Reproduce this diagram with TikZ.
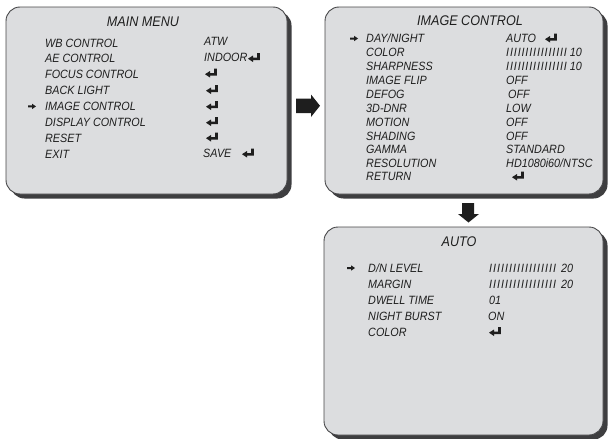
\documentclass[tikz,border=0pt]{standalone}
\usepackage{fontspec}
\setmainfont{Liberation Sans}[FakeStretch=0.9]
\usetikzlibrary{shadows}
\definecolor{facegray}{RGB}{220,221,223}
\definecolor{shadowgray}{RGB}{62,62,64}
\definecolor{edgegray}{RGB}{70,70,72}
\definecolor{inkgray}{RGB}{30,30,30}
\newcommand\barI{I\kern0.85pt}
\newcommand\barJ{I\kern1.0pt}
\tikzset{
  menubox/.style={draw=edgegray, line width=0.9pt, fill=facegray, rounded corners=14pt,
    inner sep=0pt,
    general shadow={shadow xshift=4.5pt, shadow yshift=-4.5pt, fill=shadowgray}},
  item/.style={anchor=west, inner sep=0pt, text height=8.6pt, text depth=0pt,
    font=\fontsize{12}{14}\selectfont\itshape, text=inkgray},
  title/.style={anchor=center, inner sep=0pt, text height=10pt, text depth=0pt,
    font=\fontsize{14}{16}\selectfont\itshape, text=inkgray},
  blockarrow/.style={fill=inkgray},
  enter/.pic={
    \fill[inkgray] (0,1.2) -- (5,-2) -- (5,0) -- (9.2,0) -- (9.2,-4.5) -- (11.8,-4.5)
      -- (11.8,2.5) -- (5,2.5) -- (5,4.5) -- cycle;
  },
  bullet/.pic={
    \fill[inkgray] (0,-1) -- (4,-1) -- (4,-2.7) -- (8,0) -- (4,2.7) -- (4,1) -- (0,1) -- cycle;
  }
}
\begin{document}
\begin{tikzpicture}[x=1pt,y=-1pt]
\useasboundingbox (0,0) rectangle (608,439);

% boxes
\node[menubox, minimum width=281pt, minimum height=187pt] (mainbox) at (146.5,100.5) {};
\node[menubox, minimum width=278pt, minimum height=187pt] (imgbox) at (464,100.5) {};
\node[menubox, minimum width=279pt, minimum height=208pt] (autobox) at (463.5,331) {};

% block arrows
\fill[blockarrow] (296,98.5) -- (311,98.5) -- (311,94.5) -- (320,105.8) -- (311,117)
  -- (311,113) -- (296,113) -- cycle;
\fill[blockarrow] (462,203) -- (474,203) -- (474,214) -- (479,214) -- (468.5,222.5)
  -- (458,214) -- (462,214) -- cycle;

% MAIN MENU
\node[title] (t1) at (143,21.5) {MAIN MENU};
\node[item] (m1) at (45,42.7) {WB CONTROL};
\node[item] (m2) at (45,58.4) {AE CONTROL};
\node[item] (m3) at (45,74.2) {FOCUS CONTROL};
\node[item] (m4) at (45,90.1) {BACK LIGHT};
\node[item] (m5) at (45,106.4) {IMAGE CONTROL};
\node[item] (m6) at (45,122.4) {DISPLAY CONTROL};
\node[item] (m7) at (45,138.2) {RESET};
\node[item] (m8) at (45,154) {EXIT};
\node[item] (v1) at (204,41) {ATW};
\node[item] (v2) at (204,57) {INDOOR};
\pic at (248,57.5) {enter};
\pic at (205,73) {enter};
\pic at (206,89.5) {enter};
\pic at (206,105.5) {enter};
\pic at (206,121.5) {enter};
\pic at (206,137) {enter};
\node[item] (v8) at (203,153) {SAVE};
\pic at (242,153) {enter};
\pic at (28,106.4) {bullet};

% IMAGE CONTROL
\node[title] (t2) at (470,20) {IMAGE CONTROL};
\node[item] (i1) at (366,38.5) {DAY/NIGHT};
\node[item] (i2) at (366,52.6) {COLOR};
\node[item] (i3) at (366,66.5) {SHARPNESS};
\node[item] (i4) at (366,80.5) {IMAGE FLIP};
\node[item] (i5) at (366,94.3) {DEFOG};
\node[item] (i6) at (366,108.2) {3D-DNR};
\node[item] (i7) at (366,122.1) {MOTION};
\node[item] (i8) at (366,135.9) {SHADING};
\node[item] (i9) at (366,149.2) {GAMMA};
\node[item] (i10) at (366,162.8) {RESOLUTION};
\node[item] (i11) at (366,176.6) {RETURN};
\node[item] (w1) at (506,38.5) {AUTO};
\pic at (545,38) {enter};
\node[item] (w2) at (506,52.6) {\barI\barI\barI\barI\barI\barI\barI\barI\barI\barI\barI\barI\barI\barI\barI I\hspace{3pt}10};
\node[item] (w3) at (506,66.5) {\barI\barI\barI\barI\barI\barI\barI\barI\barI\barI\barI\barI\barI\barI\barI I\hspace{3pt}10};
\node[item] (w4) at (506,80.5) {OFF};
\node[item] (w5) at (508,94.3) {OFF};
\node[item] (w6) at (506,108.2) {LOW};
\node[item] (w7) at (506,122.1) {OFF};
\node[item] (w8) at (506,135.9) {OFF};
\node[item] (w9) at (506,149.2) {STANDARD};
\node[item] (w10) at (506,162.8) {HD1080i60/NTSC};
\pic at (512,176) {enter};
\pic at (350,38.5) {bullet};

% AUTO
\node[title] (t3) at (459,241.7) {AUTO};
\node[item] (a1) at (368,268) {D/N LEVEL};
\node[item] (a2) at (368,284.3) {MARGIN};
\node[item] (a3) at (368,300.2) {DWELL TIME};
\node[item] (a4) at (368,316.3) {NIGHT BURST};
\node[item] (a5) at (368,332.5) {COLOR};
\node[item] (b1) at (489,268) {\barJ\barJ\barJ\barJ\barJ\barJ\barJ\barJ\barJ\barJ\barJ\barJ\barJ\barJ\barJ\barJ I\hspace{5pt}20};
\node[item] (b2) at (489,284.3) {\barJ\barJ\barJ\barJ\barJ\barJ\barJ\barJ\barJ\barJ\barJ\barJ\barJ\barJ\barJ\barJ I\hspace{5pt}20};
\node[item] (b3) at (489,300.2) {01};
\node[item] (b4) at (488,316.3) {ON};
\pic at (489,331.5) {enter};
\pic at (347,268) {bullet};
\end{tikzpicture}
\end{document}
